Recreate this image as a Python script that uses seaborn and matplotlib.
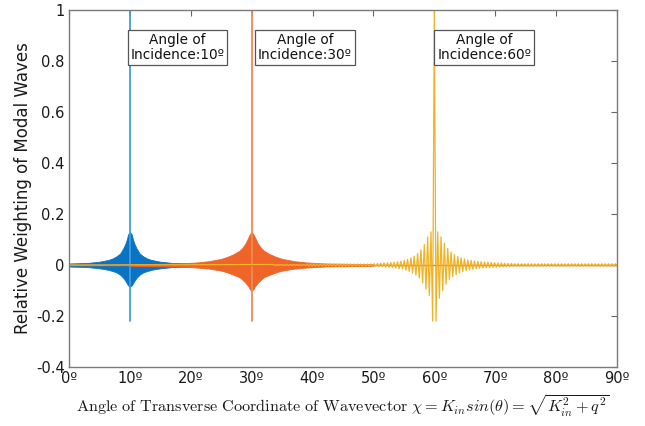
import numpy as np
import pandas as pd
import matplotlib
matplotlib.use("Agg")
import matplotlib.pyplot as plt
import seaborn as sns

sns.set_theme(style="white")
plt.rcParams['font.family'] = ['DejaVu Sans']
plt.rcParams['mathtext.fontset'] = 'cm'

# ---------------- data ----------------
incidence_angles = [10, 30, 60]
series_labels = ["Angle of\nIncidence:10º", "Angle of\nIncidence:30º", "Angle of\nIncidence:60º"]
label_angles = [10.1, 31.0, 60.5]
x_tick_values = [0, 10, 20, 30, 40, 50, 60, 70, 80, 90]
x_tick_labels = ["0º", "10º", "20º", "30º", "40º", "50º", "60º", "70º", "80º", "90º"]
y_tick_values = [-0.4, -0.2, 0, 0.2, 0.4, 0.6, 0.8, 1.0]
y_tick_labels = ["-0.4", "-0.2", "0", "0.2", "0.4", "0.6", "0.8", "1"]

peak_value = 1.0
dip_value = -0.22

# blue (10º) envelope: offsets from the incidence angle (deg), upper / lower weights
blue_offsets = [0.0, 0.3, 0.5, 0.8, 1.1, 1.6, 2.2, 2.8, 3.5, 5.0, 7.0, 10.0]
blue_upper = [0.13, 0.12, 0.10, 0.08, 0.065, 0.045, 0.034, 0.026, 0.02, 0.013, 0.008, 0.006]
blue_lower = [-0.085, -0.08, -0.072, -0.06, -0.05, -0.038, -0.029, -0.024, -0.019, -0.013, -0.008, -0.006]

# orange (30º) envelope
orange_offsets = [0.0, 0.3, 0.5, 1.0, 1.5, 2.0, 3.0, 4.0, 5.0, 7.0, 9.0, 12.0, 20.0]
orange_upper = [0.13, 0.12, 0.11, 0.085, 0.068, 0.056, 0.042, 0.032, 0.024, 0.015, 0.010, 0.006, 0.003]
orange_lower = [-0.10, -0.095, -0.085, -0.07, -0.058, -0.048, -0.038, -0.029, -0.022, -0.014, -0.010, -0.006, -0.003]

# yellow (60º): oscillation samples every 0.275º, right and left of the peak
yellow_step = 0.275
yellow_right = [-0.22, 0.13, -0.13, 0.11, -0.10, 0.085, -0.075, 0.065, -0.058, 0.05,
                -0.046, 0.041, -0.037, 0.034, -0.031, 0.028, -0.026, 0.024, -0.022, 0.02,
                -0.019, 0.018, -0.017, 0.016, -0.015, 0.014, -0.013, 0.013, -0.012, 0.012,
                -0.011, 0.011, -0.010, 0.010, -0.009, 0.009, -0.009, 0.008, -0.008, 0.008,
                -0.007, 0.007, -0.007, 0.006, -0.006, 0.006] + [-0.005, 0.005] * 31 + [-0.003, 0.003]
yellow_left = [-0.22, 0.13, -0.12, 0.11, -0.095, 0.08, -0.07, 0.06, -0.05, 0.045,
               -0.04, 0.035, -0.032, 0.028, -0.025, 0.022, -0.02, 0.018, -0.016, 0.015,
               -0.014, 0.013, -0.012, 0.011, -0.010, 0.010, -0.009, 0.009, -0.008, 0.008,
               -0.007, 0.007, -0.006, 0.006, -0.005, 0.005] + [-0.004, 0.004] * 20 + [-0.002, 0.002] * 10

colors = {"blue": "#0a74c4", "blue_spike": "#3d9ee0",
          "orange": "#ef6428", "orange_spike": "#f08a55",
          "yellow": "#f0b323"}

# ---------------- figure ----------------
fig = plt.figure(figsize=(6.45, 4.26), dpi=100)
ax = fig.add_axes([69 / 645, 59 / 426, 548 / 645, 357 / 426])


def envelope(center, offs, up, lo):
    offs = np.asarray(offs)
    x = np.concatenate([center - offs[::-1], center + offs[1:]])
    yu = np.concatenate([np.asarray(up)[::-1], np.asarray(up)[1:]])
    yl = np.concatenate([np.asarray(lo)[::-1], np.asarray(lo)[1:]])
    return x, yu, yl


# blue
bx, bu, bl = envelope(incidence_angles[0], blue_offsets, blue_upper, blue_lower)
bx = np.clip(bx, 0, 90)
ax.fill_between(bx, bl, bu, color=colors["blue"], lw=0.6, edgecolor=colors["blue"])
ax.plot([incidence_angles[0]] * 2, [dip_value, peak_value], color=colors["blue_spike"], lw=1.3)

# orange
ox, ou, ol = envelope(incidence_angles[1], orange_offsets, orange_upper, orange_lower)
ax.fill_between(ox, ol, ou, color=colors["orange"], lw=0.6, edgecolor=colors["orange"])
ax.plot([incidence_angles[1]] * 2, [dip_value, peak_value], color=colors["orange_spike"], lw=1.3)
ax.plot([0, 90], [0, 0], color=colors["orange"], lw=1.0)

# yellow
c = incidence_angles[2]
xr = [c + yellow_step * (k + 1) for k in range(len(yellow_right))]
xl = [c - yellow_step * (k + 1) for k in range(len(yellow_left))]
yx = [0.0] + xl[::-1] + [c] + xr + [90.0]
yy = [0.0] + yellow_left[::-1] + [peak_value] + yellow_right + [0.0]
df_y = pd.DataFrame({"angle": yx, "weight": yy})
df_y = df_y[df_y["angle"] <= 90]
sns.lineplot(data=df_y, x="angle", y="weight", color=colors["yellow"], lw=0.9,
             estimator=None, sort=False, ax=ax)

# annotation boxes
for ang, lab in zip(label_angles, series_labels):
    ax.text(ang, 0.853, lab, ha="left", va="center", fontsize=9.8,
            multialignment="center", color="#111111", zorder=5, linespacing=1.15,
            bbox=dict(boxstyle="square,pad=0.22", fc="white", ec="#555555", lw=0.9))

ax.set_xlim(0, 90)
ax.set_ylim(-0.4, 1.0)
ax.set_xticks(x_tick_values)
ax.set_xticklabels(x_tick_labels)
ax.set_yticks(y_tick_values)
ax.set_yticklabels(y_tick_labels)
ax.tick_params(direction="in", length=4, width=0.8, color="#666666",
               top=True, right=True, labelsize=10.5, labelcolor="#1a1a1a", pad=3)
for s in ax.spines.values():
    s.set_color("#7a7a7a")
    s.set_linewidth(1.0)
ax.set_ylabel("Relative Weighting of Modal Waves", fontsize=12, color="#1a1a1a", labelpad=3)
ax.set_xlabel(r"$\mathrm{Angle\ of\ Transverse\ Coordinate\ of\ Wavevector}\ \chi = K_{in}sin(\theta) = \sqrt{K_{in}^2 + q^2}$",
              fontsize=11.7, color="#1a1a1a", labelpad=5)
ax.grid(False)

fig.savefig("out.png", dpi=100)
